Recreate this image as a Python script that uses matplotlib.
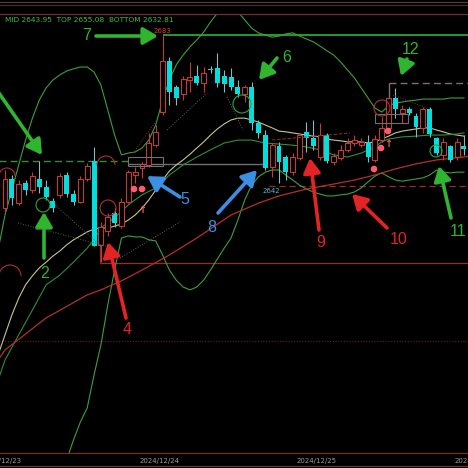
import matplotlib
matplotlib.use("Agg")
import matplotlib.pyplot as plt
import numpy as np
from matplotlib.patches import Circle, Arc, Rectangle, FancyArrowPatch
from matplotlib.transforms import IdentityTransform, blended_transform_factory
from matplotlib.lines import Line2D

# ---------------- data (H1 candles, price) ----------------
opens = [2634.9, 2643.0, 2636.3, 2641.9, 2639.9, 2643.0, 2640.8, 2636.9, 2638.6, 2644.1,
         2638.8, 2636.6, 2643.0, 2648.0, 2624.7, 2628.6, 2633.6, 2629.9, 2636.6, 2644.1,
         2646.1, 2646.9, 2652.4, 2661.6, 2675.8, 2668.6, 2666.6, 2670.5, 2671.6, 2669.7,
         2673.6, 2673.8, 2671.6, 2671.3, 2668.6, 2666.6, 2668.6, 2658.6, 2655.2, 2646.3,
         2652.2, 2649.1, 2644.9, 2648.8, 2656.1, 2654.4, 2649.1, 2655.2, 2647.7, 2648.8,
         2651.1, 2653.0, 2652.4, 2653.3, 2648.3, 2653.8, 2657.2, 2665.5, 2661.3, 2662.4,
         2660.5, 2657.2, 2662.4, 2654.4, 2649.7, 2652.2, 2649.1, 2652.2]
closes = [2643.0, 2637.7, 2641.6, 2639.9, 2643.8, 2640.8, 2638.0, 2634.9, 2643.8, 2638.8,
          2636.6, 2643.0, 2646.6, 2624.4, 2629.7, 2632.4, 2630.8, 2636.6, 2644.9, 2644.9,
          2647.2, 2653.0, 2656.1, 2675.8, 2667.2, 2665.5, 2670.8, 2671.3, 2669.7, 2672.4,
          2673.3, 2669.7, 2669.4, 2668.6, 2666.6, 2668.6, 2658.6, 2655.8, 2646.1, 2652.4,
          2647.7, 2644.9, 2649.1, 2655.2, 2654.4, 2652.2, 2655.2, 2648.0, 2649.4, 2651.1,
          2653.0, 2653.8, 2653.3, 2649.1, 2654.1, 2657.2, 2665.5, 2662.4, 2662.4, 2661.3,
          2657.4, 2662.4, 2655.5, 2650.2, 2653.3, 2648.3, 2653.3, 2651.3]
highs = [2645.5, 2644.1, 2642.7, 2642.7, 2644.9, 2648.0, 2642.7, 2637.7, 2644.7, 2644.9,
         2639.9, 2643.8, 2647.4, 2651.9, 2631.1, 2633.6, 2634.9, 2637.7, 2645.5, 2646.3,
         2647.7, 2655.8, 2658.0, 2683.0, 2676.9, 2669.1, 2671.6, 2675.5, 2674.7, 2674.1,
         2674.4, 2678.0, 2673.3, 2673.8, 2670.5, 2669.1, 2669.9, 2659.4, 2656.6, 2653.0,
         2653.3, 2649.7, 2650.2, 2655.8, 2658.8, 2659.4, 2658.6, 2655.8, 2650.2, 2652.4,
         2654.4, 2655.2, 2654.4, 2655.2, 2655.2, 2660.3, 2665.8, 2668.3, 2663.6, 2663.0,
         2661.3, 2663.0, 2663.0, 2654.7, 2654.4, 2652.4, 2654.4, 2655.2]
lows = [2633.8, 2635.8, 2635.8, 2638.6, 2639.1, 2639.1, 2637.2, 2633.8, 2637.7, 2638.0,
        2635.8, 2636.3, 2642.4, 2624.4, 2620.0, 2627.2, 2629.7, 2629.4, 2636.3, 2641.9,
        2643.3, 2646.3, 2651.9, 2660.8, 2663.6, 2663.6, 2664.9, 2667.2, 2669.1, 2667.2,
        2672.4, 2668.6, 2667.2, 2667.7, 2665.8, 2664.4, 2656.6, 2654.4, 2645.5, 2643.6,
        2641.9, 2642.7, 2644.1, 2648.3, 2650.5, 2651.1, 2648.3, 2647.4, 2646.9, 2648.3,
        2650.5, 2652.2, 2651.9, 2647.7, 2647.7, 2653.3, 2656.1, 2659.9, 2658.6, 2660.8,
        2654.7, 2655.8, 2654.7, 2649.7, 2648.3, 2647.7, 2648.3, 2649.7]

# Bollinger upper band (bar index -1 .. 67)
upper_idx = list(range(-1, 68))
upper_band = [2623.3, 2633.0, 2639.9, 2646.9, 2653.8, 2659.9, 2664.9, 2668.3, 2670.5, 2671.9,
              2673.0, 2673.6, 2674.1, 2674.1, 2672.7, 2669.1, 2662.2, 2655.2, 2649.7, 2650.2,
              2650.5, 2651.6, 2653.8, 2658.0, 2664.9, 2670.5, 2674.7, 2677.4, 2679.7, 2681.6,
              2683.8, 2686.6, 2689.1, 2690.5, 2690.5, 2689.4, 2687.2, 2684.9, 2683.6, 2683.0,
              2682.4, 2682.7, 2683.3, 2683.6, 2682.7, 2681.9, 2681.1, 2679.9, 2678.6, 2677.4,
              2675.5, 2673.3, 2671.1, 2668.3, 2665.5, 2662.7, 2661.6, 2663.3, 2664.1, 2664.4,
              2664.7, 2664.9, 2665.2, 2665.2, 2665.2, 2665.2, 2665.5, 2665.5, 2665.5]
# Bollinger lower band (bar index 8 .. 67)
lower_idx = list(range(8, 68))
lower_band = [2556.6, 2565.0, 2570.5, 2575.5, 2579.4, 2588.6, 2596.9, 2608.0, 2617.7, 2626.6,
              2627.2, 2626.9, 2626.9, 2626.1, 2625.8, 2621.9, 2617.7, 2614.9, 2613.0, 2612.2,
              2613.0, 2614.9, 2617.7, 2620.8, 2623.8, 2626.6, 2631.6, 2637.2, 2641.3, 2643.6,
              2644.9, 2645.5, 2645.5, 2644.1, 2642.7, 2641.3, 2640.2, 2639.4, 2638.8, 2638.3,
              2638.3, 2638.6, 2638.8, 2639.4, 2640.5, 2642.2, 2643.8, 2644.7, 2643.6, 2642.7,
              2642.4, 2642.7, 2643.0, 2643.3, 2644.1, 2645.5, 2644.9, 2644.7, 2644.9, 2644.9]
# Bollinger middle line (bar index -1 .. 67)
mid_idx = list(range(-1, 68))
mid_band = [2594.2, 2599.7, 2605.2, 2609.9, 2613.6, 2616.1, 2618.3, 2619.9, 2621.6, 2623.0,
            2624.7, 2626.1, 2627.2, 2628.3, 2629.1, 2629.4, 2629.4, 2629.9, 2630.5, 2631.6,
            2633.0, 2634.9, 2637.2, 2639.9, 2642.7, 2645.2, 2646.9, 2648.3, 2649.9, 2651.6,
            2653.3, 2655.2, 2656.9, 2658.3, 2659.4, 2659.9, 2659.9, 2659.4, 2658.8, 2658.0,
            2657.2, 2656.3, 2656.1, 2655.8, 2655.5, 2655.2, 2654.9, 2654.7, 2654.1, 2653.8,
            2653.6, 2653.3, 2653.3, 2653.3, 2653.0, 2653.3, 2654.1, 2654.9, 2655.8, 2656.3,
            2656.6, 2656.9, 2657.2, 2657.2, 2656.6, 2656.1, 2655.5, 2655.2, 2654.9]
# green moving average
ma_idx = [-1, 0, 2, 4, 6, 8, 10, 12, 13, 14, 16, 18, 20, 22, 24, 26, 28, 30, 32, 34, 36, 38,
          40, 42, 44, 46, 48, 50, 52, 54, 55, 56, 58, 60, 62, 64, 66, 67]
ma_green = [2587.2, 2592.7, 2599.7, 2606.6, 2613.6, 2616.3, 2619.9, 2623.8, 2626.1, 2629.4,
            2632.2, 2635.8, 2638.6, 2640.5, 2644.1, 2646.9, 2649.1, 2651.1, 2653.0, 2653.8,
            2653.8, 2653.0, 2652.7, 2652.4, 2651.9, 2651.1, 2649.7, 2649.1, 2650.2, 2651.9,
            2653.3, 2654.1, 2654.7, 2654.9, 2655.2, 2655.2, 2655.5, 2655.8]
# slow red moving average
ma_red_idx = [-1, 0, 6, 12, 14, 17, 20, 24, 28, 33, 37, 40, 44, 48, 51, 54, 57, 60, 63, 67, 68]
ma_red = [2592.7, 2595.5, 2604.4, 2610.8, 2612.2, 2614.7, 2617.7, 2621.9, 2626.6, 2633.0,
          2636.3, 2638.3, 2640.2, 2641.6, 2642.7, 2644.1, 2645.8, 2647.2, 2648.3, 2649.1, 2649.4]

# horizontal levels
level_top = 2683.0
level_range_hi = 2648.0
level_mid_gray = 2647.2
level_red_dash = 2641.1
level_red_solid = 2619.7
level_red_dot = 2598.0
level_box12 = 2669.7

info_text = "MID 2643.95  TOP 2655.08  BOTTOM 2632.81"
date_labels = ["2024/12/23", "2024/12/24", "2024/12/25", "2024/12/26"]
date_pos = [-0.5, 22.5, 45.5, 68.5]

# ---------------- figure ----------------
W, H, DPI = 468, 468, 100
fig = plt.figure(figsize=(W / DPI, H / DPI), dpi=DPI, facecolor="black")
TOP_PX, BOT_PX = 14, 453
ax = fig.add_axes([0, (H - BOT_PX) / H, 1, (BOT_PX - TOP_PX) / H])
ax.set_facecolor("black")
ax.set_xlim(-0.73, 67.59)
ax.set_ylim(2566.89, 2688.83)
ax.axis("off")

CYAN = "#00dede"
CWICK = "#8fb8b8"
RED = "#c23b3b"
BAND = "#3f9f3a"
KHAKI = "#c8c48c"
DGREEN = "#2f8f3c"
REDMA = "#b3302e"
GREENTXT = "#35c435"
ANN_RED = "#e42424"
ANN_BLUE = "#3b8fe4"
ANN_GREEN = "#2fb52f"

def fp(x, y):
    return (x, H - y)

# levels / boxes
ax.hlines(level_top, 23, 68, color="#2a9a2a", lw=1.4, zorder=1)
ax.hlines(level_range_hi, -1, 18, color="#3a8a3a", lw=1.0, linestyles=(0, (5, 3)), zorder=1)
ax.hlines(level_mid_gray, 18, 37.8, color="#707070", lw=1.0, zorder=1)
ax.hlines(level_red_dash, 38.5, 68, color="#a02828", lw=0.9, linestyles=(0, (5, 3)), zorder=1)
ax.hlines(level_red_solid, 13.9, 68, color="#a02828", lw=0.9, zorder=1)
ax.vlines(13.9, level_red_solid, 2629.7, color="#a02828", lw=0.9, zorder=1)
ax.hlines(level_red_dot, -1, 68, color="#6a1e1e", lw=0.8, linestyles=(0, (1, 1.5)), zorder=1)
ax.hlines(level_box12, 56, 68, color="#8a6a6a", lw=1.0, linestyles=(0, (5, 3)), zorder=1)
ax.vlines(56, 2662.7, level_box12, color="#8a6a6a", lw=1.0, zorder=1)

# indicator lines
ax.plot(upper_idx, upper_band, color=BAND, lw=0.8, zorder=2)
ax.plot(lower_idx, lower_band, color=BAND, lw=0.8, zorder=2)
ax.plot(mid_idx, mid_band, color=KHAKI, lw=0.8, zorder=2)
ax.plot(ma_idx, ma_green, color=DGREEN, lw=0.8, zorder=2)
ax.plot(ma_red_idx, ma_red, color=REDMA, lw=0.9, zorder=2)

# candles
o = np.array(opens); c = np.array(closes); hi = np.array(highs); lo = np.array(lows)
x = np.arange(len(o))
up = c >= o
ax.vlines(x[up], lo[up], hi[up], color=RED, lw=0.8, zorder=3)
ax.vlines(x[~up], lo[~up], hi[~up], color=CWICK, lw=0.8, zorder=3)
ax.bar(x[up], np.maximum(c[up] - o[up], 0.15), bottom=o[up], width=0.72,
       facecolor="black", edgecolor=RED, lw=0.8, zorder=4)
ax.bar(x[~up], np.maximum(o[~up] - c[~up], 0.15), bottom=c[~up], width=0.72,
       color=CYAN, lw=0, zorder=4)

# decorations in pixel space
disp = IdentityTransform()
def line_px(pts, color, lw, ls="-"):
    xs = [p[0] for p in pts]; ys = [H - p[1] for p in pts]
    fig.add_artist(Line2D(xs, ys, transform=disp, color=color, lw=lw, ls=ls))

# frame lines
line_px([(0, 2), (468, 2)], "#5a3a3a", 0.8)
line_px([(0, 4.5), (468, 4.5)], "#4a3030", 0.8)
line_px([(0, 14), (468, 14)], "#7a2a2a", 0.9)
line_px([(0, 453), (468, 453)], "#7a2a2a", 0.9)
line_px([(0, 466), (468, 466)], "#5a3a3a", 0.9)

# dotted helper lines
line_px([(18, 223), (110, 247)], "#3a6a4a", 0.7, ":")
line_px([(55, 205), (100, 245)], "#3a6a4a", 0.7, ":")
line_px([(120, 258), (180, 222)], "#606060", 0.7, ":")
line_px([(133, 153), (157, 120)], "#8a3030", 0.7, ":")
line_px([(167, 130), (207, 93)], "#606060", 0.7, ":")
line_px([(227, 97), (243, 130)], "#606060", 0.7, ":")
line_px([(272, 140), (350, 133)], "#8a3030", 0.7, "--")
line_px([(393, 95), (427, 108)], "#8a3030", 0.7, ":")

# gray boxes
for (x0, y0, x1, y1) in [(128, 157, 163, 166), (375, 114, 408, 123)]:
    fig.add_artist(Rectangle(fp(x0, y1), x1 - x0, y1 - y0, transform=disp,
                             fill=False, ec="#707070", lw=0.8))

# circles / arcs
for (cx, cy, r, col) in [(43, 205, 7, "#3aa03a"), (108, 208, 8, "#b03030"),
                         (242, 104, 9, "#3aa03a"), (382, 108, 8, "#b03030"),
                         (436, 151, 6, "#3aa03a")]:
    fig.add_artist(Circle(fp(cx, cy), r, transform=disp, fill=False, ec=col, lw=0.8))
for (cx, cy, r) in [(106, 165, 9), (10, 276, 11), (7, 176, 8)]:
    fig.add_artist(Arc(fp(cx, cy), 2 * r, 2 * r, theta1=0, theta2=180, transform=disp,
                       ec="#b03030", lw=0.8))

# pink signal dots and arrows
for (cx, cy) in [(134, 189), (142, 189), (388, 131), (381, 148), (374, 169)]:
    fig.add_artist(Circle(fp(cx, cy), 2.6, transform=disp, color="#ff5a6a"))
for (cx, cy) in [(142, 210), (388, 144)]:
    fig.text(cx / W, 1 - cy / H, "\u2191", color="#ff5a6a", fontsize=7, fontweight="bold",
             ha="center", va="center")

# annotation arrows
def arrow(tail, tip, col, lw=2.6):
    fig.add_artist(FancyArrowPatch(
        fp(*tail), fp(*tip), transform=disp, arrowstyle="-|>,head_length=0.55,head_width=0.32",
        mutation_scale=16, lw=lw, color=col, shrinkA=0, shrinkB=0))

arrow((-6, 86), (42, 155), ANN_GREEN)
arrow((44, 258), (44, 212), ANN_GREEN)
arrow((96, 36), (158, 36), ANN_GREEN)
arrow((277, 58), (259, 80), ANN_GREEN)
arrow((407, 59), (401, 76), ANN_GREEN)
arrow((451, 218), (439, 166), ANN_GREEN)
arrow((387, 228), (352, 194), ANN_RED)
arrow((319, 230), (310, 158), ANN_RED)
arrow((126, 318), (108, 242), ANN_RED)
arrow((218, 213), (257, 170), ANN_BLUE)
arrow((180, 197), (147, 176), ANN_BLUE)

NUMF = dict(fontfamily="Liberation Sans", fontsize=11.5, ha="center", va="center")
for (s, tx, ty, col) in [("2", 45, 273, ANN_GREEN), ("7", 87, 36, ANN_GREEN),
                         ("6", 287, 57, ANN_GREEN), ("12", 411, 49, ANN_GREEN),
                         ("11", 458, 231, ANN_GREEN), ("10", 399, 240, ANN_RED),
                         ("9", 321, 242, ANN_RED), ("4", 127, 330, ANN_RED),
                         ("8", 212, 227, ANN_BLUE), ("5", 185, 200, ANN_BLUE)]:
    fig.text(tx / W, 1 - ty / H, s, color=col, **NUMF)

# small texts
fig.text(5 / W, 1 - 20 / H, info_text, color=GREENTXT, fontsize=5.3, ha="left", va="center")
fig.text(154 / W, 1 - 31 / H, "2683", color="#e03a3a", fontsize=5, ha="left", va="center")
fig.text(263 / W, 1 - 191 / H, "2642", color="#5ab8c8", fontsize=5, ha="left", va="center")

tr = blended_transform_factory(ax.transData, fig.transFigure)
for lab, pos in zip(date_labels, date_pos):
    fig.text(pos, 1 - 461 / H, lab, transform=tr, color="#9a9a9a", fontsize=5,
             ha="center", va="center", clip_on=False)

fig.savefig("out.png", dpi=DPI, facecolor="black")
